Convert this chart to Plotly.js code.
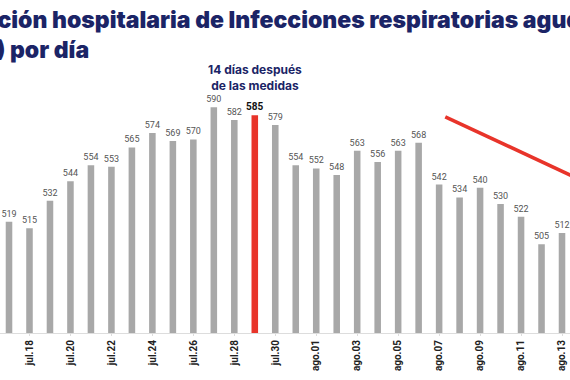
<!DOCTYPE html>
<html><head><meta charset="utf-8">
<script src="https://cdn.plot.ly/plotly-3.0.1.min.js"></script>
<style>html,body{margin:0;padding:0;background:#fff}#c{width:570px;height:380px}</style>
</head><body><div id="c"></div>
<script>
const dates = ["jul.17","jul.18","jul.19","jul.20","jul.21","jul.22","jul.23","jul.24","jul.25","jul.26","jul.27","jul.28","jul.29","jul.30","jul.31","ago.01","ago.02","ago.03","ago.04","ago.05","ago.06","ago.07","ago.08","ago.09","ago.10","ago.11","ago.12","ago.13"];
const values = [519,515,532,544,554,553,565,574,569,570,590,582,585,579,554,552,548,563,556,563,568,542,534,540,530,522,505,512];
const highlight = "jul.29";
const tickLabels = dates.filter((d,i)=> i%2===1);
const trendStart = {x: 21.3, y: 584};
const trendEnd = {x: 28.5, y: 541.4};

const hi = dates.indexOf(highlight);
const idx = dates.map((d,i)=>i);
const colors = dates.map((d,i)=> i===hi ? '#e8342a' : '#a8a8a8');
const texts = values.map((v,i)=> i===hi ? '<b>'+v+'</b>' : String(v));
const tcolors = dates.map((d,i)=> i===hi ? '#111111' : '#555555');
const tsizes = dates.map((d,i)=> i===hi ? 10 : 9);

const trace = {
  type:'bar', x: idx, y: values, width: 0.32,
  marker:{color: colors},
  text: texts, textposition:'outside', cliponaxis:false, constraintext:'none',
  textfont:{family:'Roboto, sans-serif', size: tsizes, color: tcolors},
  outsidetextfont:{family:'Roboto, sans-serif', size: tsizes, color: tcolors},
  hoverinfo:'skip'
};
const titleFont = {family:'Inter, sans-serif', size:23, color:'#1b2466', weight:900};
const layout = {
  width:570, height:380,
  margin:{l:0, r:0, t:91, b:47},
  paper_bgcolor:'#fff', plot_bgcolor:'#fff',
  showlegend:false,
  xaxis:{range:[-0.44,27.39], tickmode:'array', tickvals: idx.filter(i=>i%2===1), ticktext: tickLabels,
    tickangle:-90, tickfont:{family:'Roboto, sans-serif', size:10, color:'#222', weight:700},
    showgrid:false, zeroline:false, showline:true, linecolor:'#dddddd', linewidth:1,
    ticks:'outside', ticklen:2, tickcolor:'#dddddd', fixedrange:true},
  yaxis:{range:[450,600], visible:false, fixedrange:true},
  shapes:[{type:'line', xref:'x', yref:'y', x0:trendStart.x, y0:trendStart.y, x1:trendEnd.x, y1:trendEnd.y,
    line:{color:'#e8342a', width:3.5}}],
  annotations:[
    {xref:'paper', yref:'paper', x:-0.14, y:1.36, xanchor:'left', yanchor:'top', align:'left', showarrow:false,
     text:'Ocupación hospitalaria de Infecciones respiratorias agudas graves', font:titleFont},
    {xref:'paper', yref:'paper', x:-0.124, y:1.236, xanchor:'left', yanchor:'top', align:'left', showarrow:false,
     text:'(IRAG) por día', font:titleFont},
    {xref:'x', yref:'paper', x:hi, y:0.985, xanchor:'center', yanchor:'bottom', align:'center', showarrow:false,
     text:'14 días después<br>de las medidas', font:{family:'Inter, sans-serif', size:12, color:'#1b2466', weight:700}}
  ]
};
Plotly.newPlot('c',[trace],layout,{staticPlot:true,displayModeBar:false});
</script></body></html>
